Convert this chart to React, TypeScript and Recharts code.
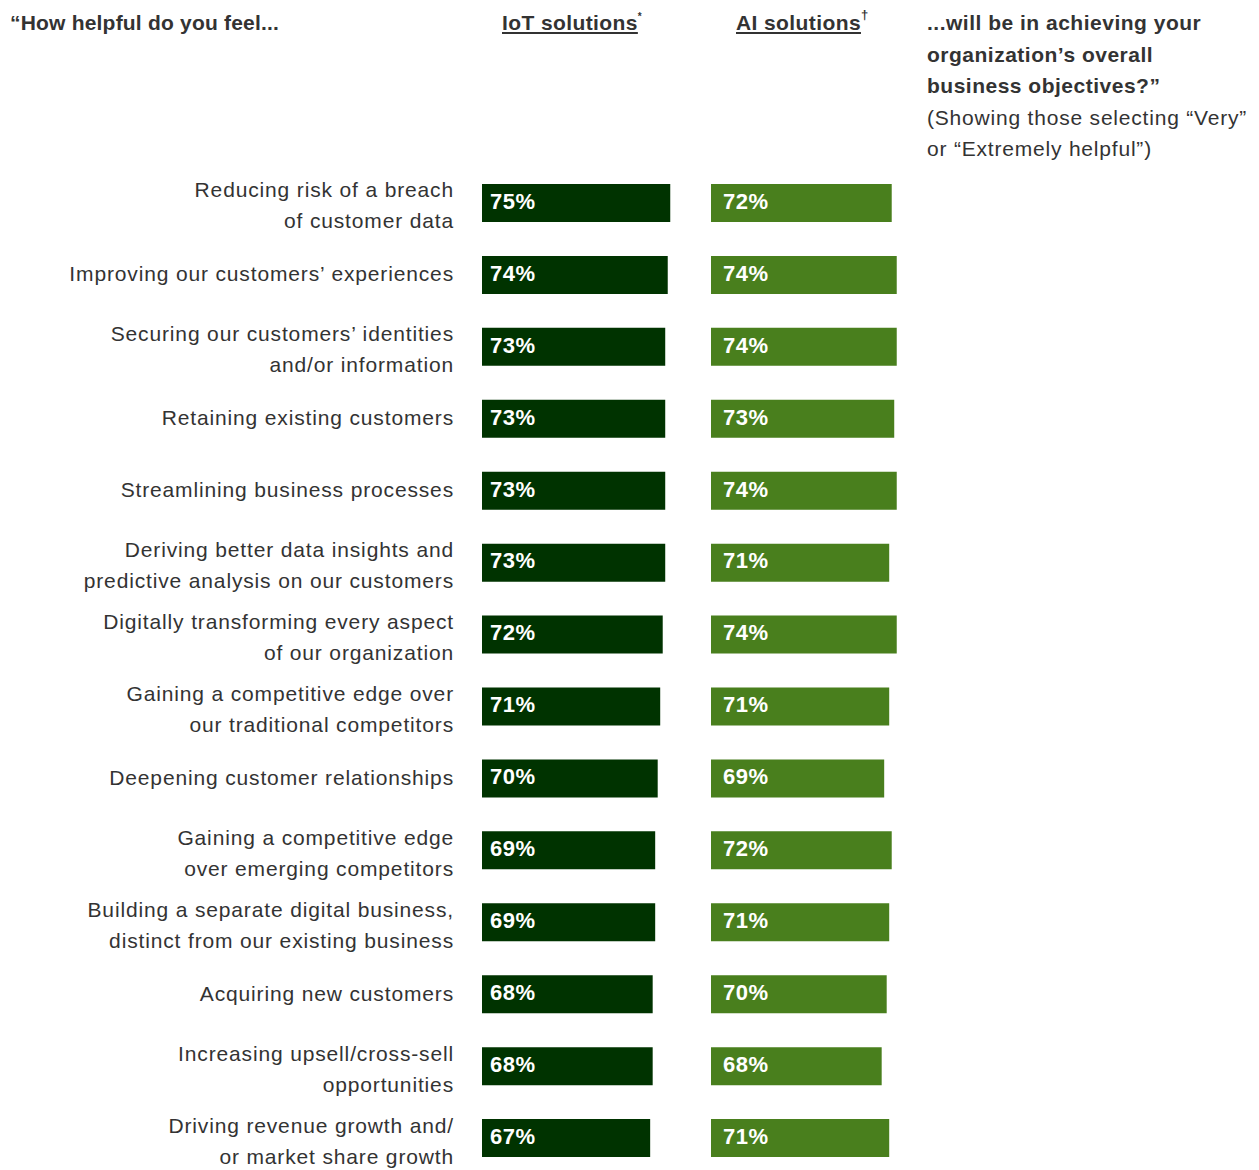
import React from "react";
import { BarChart, Bar, XAxis, YAxis, LabelList } from "recharts";

const categories: string[][] = [
  ["Reducing risk of a breach", "of customer data"],
  ["Improving our customers’ experiences"],
  ["Securing our customers’ identities", "and/or information"],
  ["Retaining existing customers"],
  ["Streamlining business processes"],
  ["Deriving better data insights and", "predictive analysis on our customers"],
  ["Digitally transforming every aspect", "of our organization"],
  ["Gaining a competitive edge over", "our traditional competitors"],
  ["Deepening customer relationships"],
  ["Gaining a competitive edge", "over emerging competitors"],
  ["Building a separate digital business,", "distinct from our existing business"],
  ["Acquiring new customers"],
  ["Increasing upsell/cross-sell", "opportunities"],
  ["Driving revenue growth and/", "or market share growth"],
];
const iotValues = [75, 74, 73, 73, 73, 73, 72, 71, 70, 69, 69, 68, 68, 67];
const aiValues = [72, 74, 74, 73, 74, 71, 74, 71, 69, 72, 71, 70, 68, 71];

const data = categories.map((c, i) => ({
  name: c.join(" "),
  lines: c,
  iot: iotValues[i],
  ai: aiValues[i],
}));

const FONT = "'Liberation Sans', Arial, Helvetica, sans-serif";
const TEXT = "#333333";
const IOT_COLOR = "#003300";
const AI_COLOR = "#497f1d";
const CHART_H = 1176;
const MARGIN_TOP = 167;
const MARGIN_BOTTOM = 2;
const LABEL_SIZE = 21;
const LABEL_SPACING = 0.85;

const CategoryTick = (props: any) => {
  const { y, payload } = props;
  const item = data.find((d) => d.name === payload.value);
  const lines = item ? item.lines : [payload.value];
  const labelRight = 454;
  const common = {
    x: labelRight,
    textAnchor: "end" as const,
    dominantBaseline: "central" as const,
    fill: TEXT,
    fontSize: LABEL_SIZE,
    fontFamily: FONT,
    letterSpacing: LABEL_SPACING,
  };
  if (lines.length === 1) {
    return (
      <text {...common} y={y - 1}>
        {lines[0]}
      </text>
    );
  }
  return (
    <g>
      <text {...common} y={y - 13}>
        {lines[0]}
      </text>
      <text {...common} y={y + 18}>
        {lines[1]}
      </text>
    </g>
  );
};

const pct = (v: any) => `${v}%`;

const headerBold: React.CSSProperties = {
  position: "absolute",
  top: 9,
  fontSize: 21,
  fontWeight: "bold",
  lineHeight: "28px",
  letterSpacing: 0.4,
  whiteSpace: "nowrap",
};

export default function App() {
  return (
    <div
      style={{
        position: "absolute",
        left: 0,
        top: 0,
        width: 1259,
        height: 1170,
        overflow: "hidden",
        background: "#fff",
        fontFamily: FONT,
        color: TEXT,
      }}
    >
      <div style={{ ...headerBold, left: 10, letterSpacing: 0.2 }}>“How helpful do you feel...</div>
      <div style={{ ...headerBold, left: 502 }}>
        <span style={{ textDecoration: "underline" }}>IoT solutions</span>
        <span style={{ fontSize: 10, verticalAlign: "top", lineHeight: "16px", position: "relative", top: 0 }}>*</span>
      </div>
      <div style={{ ...headerBold, left: 736 }}>
        <span style={{ textDecoration: "underline" }}>AI solutions</span>
        <span style={{ fontSize: 13, verticalAlign: "top", lineHeight: "14px", position: "relative", top: -1 }}>†</span>
      </div>
      <div style={{ position: "absolute", left: 927, top: 7, fontSize: 21, lineHeight: "31.5px", width: 332, whiteSpace: "nowrap" }}>
        <div style={{ fontWeight: "bold", letterSpacing: 0.5 }}>
          ...will be in achieving your
          <br />
          organization’s overall
          <br />
          business objectives?”
        </div>
        <div style={{ letterSpacing: 0.8 }}>
          (Showing those selecting “Very”
          <br />
          or “Extremely helpful”)
        </div>
      </div>

      <div style={{ position: "absolute", left: 0, top: 0 }}>
        <BarChart
          width={742}
          height={CHART_H}
          data={data}
          layout="vertical"
          margin={{ top: MARGIN_TOP, right: 9, bottom: MARGIN_BOTTOM, left: 0 }}
          barSize={38}
        >
          <XAxis type="number" domain={[0, 100]} hide />
          <YAxis
            type="category"
            dataKey="name"
            width={482}
            axisLine={false}
            tickLine={false}
            interval={0}
            tick={<CategoryTick />}
          />
          <Bar dataKey="iot" fill={IOT_COLOR} isAnimationActive={false}>
            <LabelList
              dataKey="iot"
              position="insideLeft"
              offset={8}
              formatter={pct}
              fill="#ffffff"
              fontSize={22}
              fontWeight="bold"
              fontFamily={FONT}
              letterSpacing={0.5}
              dy={-2}
            />
          </Bar>
        </BarChart>
      </div>

      <div style={{ position: "absolute", left: 711, top: 0 }}>
        <BarChart
          width={260}
          height={CHART_H}
          data={data}
          layout="vertical"
          margin={{ top: MARGIN_TOP, right: 9, bottom: MARGIN_BOTTOM, left: 0 }}
          barSize={38}
        >
          <XAxis type="number" domain={[0, 100]} hide />
          <YAxis type="category" dataKey="name" hide width={0} />
          <Bar dataKey="ai" fill={AI_COLOR} isAnimationActive={false}>
            <LabelList
              dataKey="ai"
              position="insideLeft"
              offset={12}
              formatter={pct}
              fill="#ffffff"
              fontSize={22}
              fontWeight="bold"
              fontFamily={FONT}
              letterSpacing={0.5}
              dy={-2}
            />
          </Bar>
        </BarChart>
      </div>
    </div>
  );
}
